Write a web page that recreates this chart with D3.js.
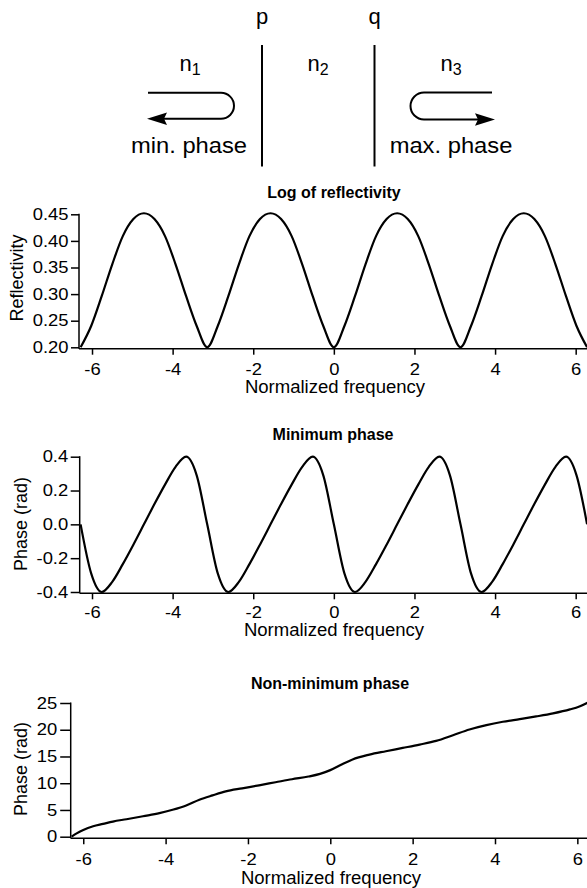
<!DOCTYPE html>
<html>
<head>
<meta charset="utf-8">
<script src="https://cdn.jsdelivr.net/npm/d3@7"></script>
<style>
  body { margin: 0; background: #fff; }
  svg { display: block; font-family: "Liberation Sans", Arial, Helvetica, sans-serif; }
</style>
</head>
<body>
<svg id="chart" width="587" height="888"></svg>
<script>
// sample positions (normalized frequency) used for panels 1 and 2
const freqGrid = [-6.283, -6.021, -5.760, -5.498, -5.236, -4.974, -4.712, -4.451, -4.189, -3.927,
  -3.665, -3.403, -3.142, -2.880, -2.618, -2.356, -2.094, -1.833, -1.571, -1.309, -1.047, -0.785,
  -0.524, -0.262, 0, 0.262, 0.524, 0.785, 1.047, 1.309, 1.571, 1.833, 2.094, 2.356, 2.618, 2.880,
  3.142, 3.403, 3.665, 3.927, 4.189, 4.451, 4.712, 4.974, 5.236, 5.498, 5.760, 6.021, 6.283];

const reflectivity = [
  0.200, 0.240, 0.296, 0.356, 0.409, 0.441, 0.452, 0.441, 0.409, 0.356, 0.296, 0.240,
  0.200, 0.240, 0.296, 0.356, 0.409, 0.441, 0.452, 0.441, 0.409, 0.356, 0.296, 0.240,
  0.200, 0.240, 0.296, 0.356, 0.409, 0.441, 0.452, 0.441, 0.409, 0.356, 0.296, 0.240,
  0.200, 0.240, 0.296, 0.356, 0.409, 0.441, 0.452, 0.441, 0.409, 0.356, 0.296, 0.240,
  0.200];

const minPhase = [
  0.00, -0.29, -0.40, -0.34, -0.235, -0.12, 0.00, 0.12, 0.235, 0.34, 0.40, 0.29,
  0.00, -0.29, -0.40, -0.34, -0.235, -0.12, 0.00, 0.12, 0.235, 0.34, 0.40, 0.29,
  0.00, -0.29, -0.40, -0.34, -0.235, -0.12, 0.00, 0.12, 0.235, 0.34, 0.40, 0.29,
  0.00, -0.29, -0.40, -0.34, -0.235, -0.12, 0.00, 0.12, 0.235, 0.34, 0.40, 0.29,
  0.00];

const nonMinFreq = [-6.283, -6.16, -6.0, -5.76, -5.52, -5.28, -4.95, -4.55, -4.15, -3.83, -3.5,
  -3.18, -2.86, -2.54, -2.14, -1.73, -1.33, -0.93, -0.53, -0.25, 0, 0.30, 0.54, 0.95, 1.35, 1.76,
  2.17, 2.57, 2.98, 3.38, 3.79, 4.19, 4.60, 5.0, 5.41, 5.82, 6.05, 6.283];
const nonMinPhase = [0, 0.63, 1.26, 1.95, 2.39, 2.83, 3.27, 3.83, 4.40, 5.03, 5.84,
  6.91, 7.73, 8.48, 9.05, 9.61, 10.18, 10.75, 11.25, 11.75, 12.45, 13.6, 14.45, 15.35, 15.98, 16.6,
  17.23, 17.92, 18.98, 20.05, 20.87, 21.49, 21.99, 22.49, 23.06, 23.8, 24.35, 25.2];

const freqTicks = [-6, -4, -2, 0, 2, 4, 6];
const reflTicks = [0.20, 0.25, 0.30, 0.35, 0.40, 0.45];
const minPhaseTicks = [-0.4, -0.2, 0.0, 0.2, 0.4];
const nonMinTicks = [0, 5, 10, 15, 20, 25];

const TWO_PI = 2 * Math.PI;
const STRETCH = 1.15; // tick labels in the original are a bit wide

const svg = d3.select('#chart');

const zip = (xs, ys) => xs.map((v, i) => [v, ys[i]]);

const drawDiagram = () => {
  const g = svg.append('g').attr('font-size', 22);

  // interfaces p and q
  [262, 374.5].forEach(px => {
    g.append('line').attr('x1', px).attr('x2', px).attr('y1', 45).attr('y2', 166.5)
      .attr('stroke', '#000').attr('stroke-width', 2);
  });
  g.append('text').attr('x', 262).attr('y', 24).attr('text-anchor', 'middle').text('p');
  g.append('text').attr('x', 374.5).attr('y', 24).attr('text-anchor', 'middle').text('q');

  [['1', 190], ['2', 318], ['3', 451]].forEach(([sub, cx]) => {
    const t = g.append('text').attr('x', cx).attr('y', 71).attr('text-anchor', 'middle');
    t.append('tspan').text('n');
    t.append('tspan').attr('font-size', 16).attr('dy', 4).text(sub);
  });

  // reflected wave arrows
  g.append('path').attr('d', 'M148,92.8 H221 A13,13 0 0 1 221,118.8 H164')
    .attr('fill', 'none').attr('stroke', '#000').attr('stroke-width', 2);
  g.append('path').attr('d', 'M147,118.8 L167,112.5 L164,118.8 L167,125.1 Z').attr('fill', '#000');

  g.append('path').attr('d', 'M492,92.5 H424 A13.5,13.5 0 0 0 424,119.5 H478')
    .attr('fill', 'none').attr('stroke', '#000').attr('stroke-width', 2);
  g.append('path').attr('d', 'M495,119.5 L475,113.2 L478,119.5 L475,125.8 Z').attr('fill', '#000');

  g.append('text').attr('transform', 'translate(189,153) scale(1.08,1)')
    .attr('text-anchor', 'middle').text('min. phase');
  g.append('text').attr('transform', 'translate(451,153) scale(1.08,1)')
    .attr('text-anchor', 'middle').text('max. phase');
}

const drawPanel = (cfg) => {
  const x = d3.scaleLinear().domain([-TWO_PI, TWO_PI]).range(cfg.xRange);
  const y = d3.scaleLinear().domain(cfg.yDomain).range(cfg.yRange);
  const g = svg.append('g');

  const yAxis = g.append('g')
    .attr('transform', `translate(${cfg.yAxisX},0)`)
    .call(d3.axisLeft(y).tickValues(cfg.yTicks).tickFormat(cfg.yFormat)
      .tickSize(cfg.yTickSize).tickPadding(cfg.yPad).tickSizeOuter(0));
  yAxis.select('.domain').remove();
  yAxis.selectAll('line').attr('stroke-width', 1.5);
  yAxis.selectAll('text')
    .attr('font-size', 16).attr('fill', '#000').attr('font-family', null)
    .attr('x', -(cfg.yTickSize + cfg.yPad) / STRETCH)
    .attr('transform', `scale(${STRETCH},1)`);

  const xAxis = g.append('g')
    .attr('transform', `translate(0,${cfg.xAxisY})`)
    .call(d3.axisBottom(x).tickValues(freqTicks).tickFormat(d => String(d))
      .tickSize(6).tickPadding(cfg.xPad).tickSizeOuter(0));
  xAxis.select('.domain').remove();
  xAxis.selectAll('line').attr('stroke-width', 1.5);
  xAxis.selectAll('text')
    .attr('font-size', 16).attr('fill', '#000').attr('font-family', null)
    .attr('transform', `scale(${STRETCH},1)`);

  // axis lines
  g.append('line').attr('x1', cfg.yAxisX).attr('x2', cfg.yAxisX)
    .attr('y1', y(cfg.yDomain[1]) - 0.5).attr('y2', cfg.xAxisY)
    .attr('stroke', '#000').attr('stroke-width', 1.5);
  g.append('line').attr('x1', cfg.yAxisX).attr('x2', 587)
    .attr('y1', cfg.xAxisY).attr('y2', cfg.xAxisY)
    .attr('stroke', '#000').attr('stroke-width', 1.5);

  const line = d3.line().x(d => x(d[0])).y(d => y(d[1])).curve(d3.curveMonotoneX);
  g.append('path').datum(zip(cfg.xs, cfg.ys))
    .attr('d', line).attr('fill', 'none').attr('stroke', '#000').attr('stroke-width', 2.2);

  g.append('text').attr('x', cfg.titleX).attr('y', cfg.titleY)
    .attr('text-anchor', 'middle').attr('font-weight', 'bold').attr('font-size', 16)
    .text(cfg.title);

  g.append('text')
    .attr('transform', `translate(${cfg.titleX + 1},${cfg.xLabelY}) scale(1.06,1)`)
    .attr('text-anchor', 'middle').attr('font-size', 17.5).text('Normalized frequency');

  g.append('text')
    .attr('transform', `translate(${cfg.yLabelX},${cfg.yLabelY}) rotate(-90)`)
    .attr('text-anchor', 'middle').attr('font-size', 18).text(cfg.yLabel);
}

drawDiagram();

drawPanel({
  xs: freqGrid, ys: reflectivity,
  xRange: [80.6, 587.1], yDomain: [0.2, 0.45], yRange: [347.3, 214.3],
  yTicks: reflTicks, yFormat: d => d.toFixed(2), yTickSize: 8, yPad: 2.5,
  yAxisX: 79, xAxisY: 348.7, xPad: 8.5,
  title: 'Log of reflectivity', titleX: 334, titleY: 198,
  xLabelY: 393, yLabel: 'Reflectivity', yLabelX: 23, yLabelY: 278
});

drawPanel({
  xs: freqGrid, ys: minPhase,
  xRange: [80.6, 587.1], yDomain: [-0.4, 0.4], yRange: [592, 456.7],
  yTicks: minPhaseTicks, yFormat: d => d.toFixed(1), yTickSize: 9, yPad: 2.5,
  yAxisX: 79.7, xAxisY: 593.3, xPad: 7.5,
  title: 'Minimum phase', titleX: 333, titleY: 440,
  xLabelY: 636, yLabel: 'Phase (rad)', yLabelX: 27, yLabelY: 524
});

drawPanel({
  xs: nonMinFreq, ys: nonMinPhase,
  xRange: [71.6, 589], yDomain: [0, 25], yRange: [836.7, 703],
  yTicks: nonMinTicks, yFormat: d => String(d), yTickSize: 10.5, yPad: 3,
  yAxisX: 70.7, xAxisY: 838.3, xPad: 9.5,
  title: 'Non-minimum phase', titleX: 330, titleY: 689,
  xLabelY: 883.5, yLabel: 'Phase (rad)', yLabelX: 27, yLabelY: 769
});
</script>
</body>
</html>
